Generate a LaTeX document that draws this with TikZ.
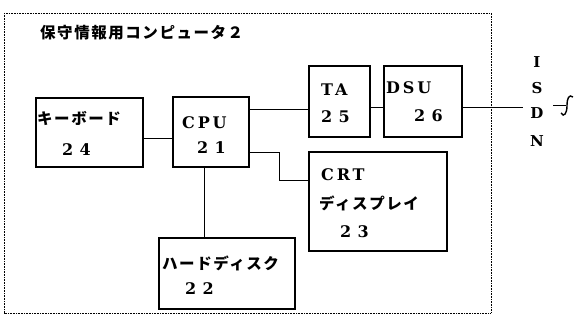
\documentclass[tikz,border=0pt]{standalone}
\usepackage{fontspec}
\newfontfamily\jp{Noto Sans CJK JP}[LetterSpace=10]
\newfontfamily\lat{DejaVu Serif}[LetterSpace=18]
\newfontfamily\dig{DejaVu Serif}[LetterSpace=40]
\newfontfamily\isdnf{DejaVu Serif}
\begin{document}
\begin{tikzpicture}[x=1pt,y=-1pt,
  box/.style={draw,line width=1.1pt,anchor=north west,inner sep=0pt,outer sep=0pt},
  wire/.style={line width=1pt},
  frame/.style={line width=0.9pt,dash pattern=on 1pt off 0.6pt},
  jtxt/.style={anchor=west,inner sep=0pt,font=\jp\bfseries\fontsize{15.5}{17}\selectfont},
  ltxt/.style={anchor=west,inner sep=0pt,font=\lat\bfseries\fontsize{16}{18}\selectfont},
  dtxt/.style={anchor=west,inner sep=0pt,font=\dig\bfseries\fontsize{16}{18}\selectfont},
  itxt/.style={inner sep=0pt,font=\isdnf\bfseries\fontsize{15}{17}\selectfont}]
\useasboundingbox (0,0) rectangle (574,323);
\draw[frame] (4,13) rectangle (491,313);
\node[jtxt] (title) at (40,33) {保守情報用コンピュータ２};
% boxes
\node[box,minimum width=107pt,minimum height=69pt] (kb) at (36,98) {};
\node[box,minimum width=76pt,minimum height=70pt] (cpu) at (173,97) {};
\node[box,minimum width=61pt,minimum height=71pt] (ta) at (309,66) {};
\node[box,minimum width=78pt,minimum height=71pt] (dsu) at (384,66) {};
\node[box,minimum width=138pt,minimum height=99pt] (crt) at (309,152) {};
\node[box,minimum width=136pt,minimum height=71pt] (hdd) at (159,238) {};
% texts
\node[jtxt] (kbt) at (37,118) {キーボード};
\node[dtxt] (kbn) at (62,150) {24};
\node[ltxt] (cput) at (182,123) {CPU};
\node[dtxt] (cpun) at (197,148) {21};
\node[ltxt] (tat) at (321,90) {TA};
\node[dtxt] (tan) at (321,117) {25};
\node[ltxt] (dsut) at (386,88) {DSU};
\node[dtxt] (dsun) at (414,116) {26};
\node[ltxt] (crtt) at (321,175) {CRT};
\node[jtxt] (crtj) at (319,203) {ディスプレイ};
\node[dtxt] (crtn) at (340,232) {23};
\node[jtxt] (hddt) at (162,263) {ハードディスク};
\node[dtxt] (hddn) at (185,289) {22};
% ISDN
\node[itxt] (i1) at (537,62) {I};
\node[itxt] (i2) at (537,88) {S};
\node[itxt] (i3) at (537,113) {D};
\node[itxt] (i4) at (537,141) {N};
% wires
\draw[wire] (kb.east |- 0,139) -- (cpu.west |- 0,139);
\draw[wire] (cpu.east |- 0,110) -- (ta.west |- 0,110);
\draw[wire] (ta.east |- 0,108) -- (dsu.west |- 0,108);
\coordinate (lineend) at (523,108);
\draw[wire] (dsu.east |- 0,108) -- (lineend);
\draw[wire] (cpu.east |- 0,153) -- (279,153) -- (279,181) -- (crt.west |- 0,181);
\draw[wire] (cpu.south -| 204,0) -- (hdd.north -| 204,0);
% break symbol
\coordinate (bs) at (553,105);
\coordinate (be) at (566,105);
\draw[line width=0.9pt] (bs) -- (be);
\draw[line width=1.4pt] (561,113) .. controls (564,118) and (567,113) .. (567,106) .. controls (567,98) and (569,94) .. (573,97);
\end{tikzpicture}
\end{document}
